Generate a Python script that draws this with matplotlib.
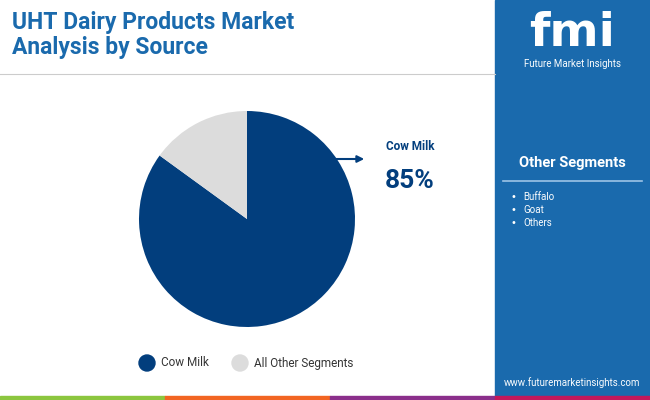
import matplotlib
matplotlib.use("Agg")
import matplotlib.pyplot as plt
from matplotlib.patches import Rectangle, Circle

labels = ["Cow Milk", "All Other Segments"]
values = [85, 15]
colors = ["#023e7d", "#dcdcdc"]
other_segments = ["Buffalo", "Goat", "Others"]

W, H = 650, 400
fig = plt.figure(figsize=(6.5, 4.0), dpi=100)
bg = fig.add_axes([0, 0, 1, 1])
bg.set_xlim(0, W); bg.set_ylim(H, 0); bg.axis("off")

# right panel
bg.add_patch(Rectangle((495, 0), 155, 400, color="#1a6aad", zorder=0))
# header line
bg.plot([0, 495], [74, 74], color="#cccccc", lw=0.8)
# bottom stripes
for x0, c in [(0, "#8cc63f"), (165, "#f26522"), (330, "#8b2f8b"), (495, "#c2185b")]:
    bg.add_patch(Rectangle((x0, 396), 165 if x0 < 495 else 155, 4, color=c, zorder=1))

bg.text(12, 35, "UHT Dairy Products Market\nAnalysis by Source", fontsize=16.5,
        fontweight="bold", color="#1a6aad", va="center", family="Roboto", linespacing=1.1)

# logo
bg.text(572, 33, "fmi", fontsize=34, fontweight="bold", color="white", ha="center", va="center", family="DejaVu Sans")
bg.text(572, 64, "Future Market Insights", fontsize=7, color="white", ha="center", va="center", family="Roboto")

bg.text(572, 163, "Other Segments", fontsize=10.5, fontweight="bold", color="white", ha="center", va="center", family="Roboto")
bg.plot([503, 642], [181, 181], color="#9cc3e6", lw=1.2)
for i, s in enumerate(other_segments):
    y = 197 + i * 13
    bg.text(510, y, "•", fontsize=7, color="white", va="center")
    bg.text(523, y, s, fontsize=7, color="white", va="center", family="Roboto")
bg.text(572, 383, "www.futuremarketinsights.com", fontsize=7, color="white", ha="center", va="center", family="Roboto")

# pie
pax = fig.add_axes([(247 - 108) / W, 1 - (219 + 108) / H, 216 / W, 216 / H])
pax.pie(values, colors=colors, startangle=90, counterclock=False, radius=1)
pax.set_xlim(-1, 1); pax.set_ylim(-1, 1)
pax.set_aspect("equal")

bg.annotate("", xy=(367, 159), xytext=(333, 159),
            arrowprops=dict(arrowstyle="-|>", color="#023e7d", lw=1.5))
bg.text(386, 147, "Cow Milk", fontsize=8.5, fontweight="bold", color="#023e7d", va="center", family="Roboto")
bg.text(385, 181, "85%", fontsize=19, fontweight="bold", color="#023e7d", va="center", family="Roboto")

# legend
bg.add_patch(Circle((147, 363), 8, color=colors[0]))
bg.text(161, 363, labels[0], fontsize=8.5, color="#333333", va="center", family="Roboto")
bg.add_patch(Circle((240, 363), 8, color=colors[1]))
bg.text(254, 363, labels[1], fontsize=8.5, color="#333333", va="center", family="Roboto")

fig.savefig("out.png", dpi=100)
